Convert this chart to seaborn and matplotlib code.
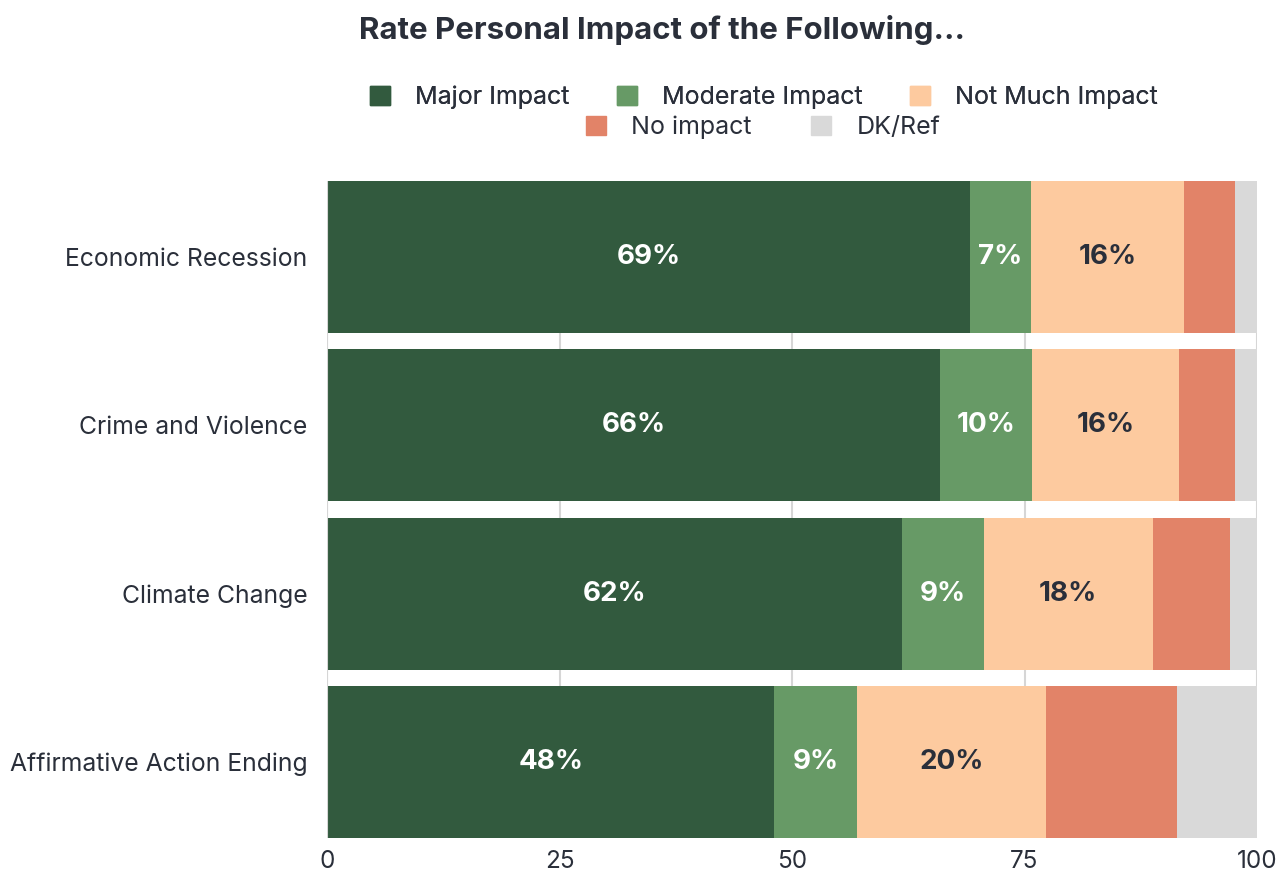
import matplotlib.pyplot as plt
import matplotlib.patches as mpatches
import seaborn as sns
import numpy as np

# survey data (percent)
issues = ["Economic Recession", "Crime and Violence", "Climate Change", "Affirmative Action Ending"]
major = [69.1, 65.9, 61.8, 48.1]
moderate = [6.6, 9.9, 8.8, 8.9]
not_much = [16.4, 15.8, 18.2, 20.3]
no_impact = [5.5, 6.0, 8.3, 14.1]
dk_ref = [2.4, 2.4, 2.9, 8.6]

series = ["Major Impact", "Moderate Impact", "Not Much Impact", "No impact", "DK/Ref"]
colors = ["#325a3e", "#679a66", "#fdca9f", "#e28368", "#d9d9d9"]
label_colors = ["white", "white", "#2a2f3a", None, None]

text_color = "#2a2f3a"

sns.set_theme(style="white")
plt.rcParams["font.family"] = ["Inter", "DejaVu Sans"]

fig = plt.figure(figsize=(12.81, 8.73), dpi=100)
ax = fig.add_axes([327 / 1281, 1 - 838 / 873, 930 / 1281, 657 / 873])

values = np.array([major, moderate, not_much, no_impact, dk_ref])
cum = values.cumsum(axis=0)

# draw cumulative bars from the back so they stack
for i in range(len(series) - 1, -1, -1):
    sns.barplot(x=cum[i], y=issues, color=colors[i], orient="h", width=0.9,
                saturation=1, linewidth=0, ax=ax, zorder=2)

# segment labels on the first three segments
for i in range(3):
    for j, issue in enumerate(issues):
        start = cum[i][j] - values[i][j]
        ax.text(start + values[i][j] / 2, j, f"{round(values[i][j])}%",
                ha="center", va="center", fontsize=20, fontweight="bold",
                color=label_colors[i], zorder=3)

ax.set_xlim(0, 100)
ax.set_ylim(3.45, -0.45)
ax.set_xticks([0, 25, 50, 75, 100])
ax.xaxis.grid(True, color="#d6d6d6", linewidth=1.5, zorder=0)
ax.set_axisbelow(True)
for s in ax.spines.values():
    s.set_visible(False)
ax.axvline(0, color="#d6d6d6", linewidth=1.5, zorder=4)
ax.set_xlabel("")
ax.set_ylabel("")
ax.tick_params(axis="y", length=0, pad=14, labelsize=17.8, labelcolor=text_color)
ax.tick_params(axis="x", length=0, pad=9, labelsize=17.5, labelcolor=text_color)

fig.text(662 / 1281, 1 - 30 / 873, "Rate Personal Impact of the Following...",
         ha="center", va="center", fontsize=22.5, fontweight="bold", color=text_color)

handles = [mpatches.Patch(color=c) for c in colors]
leg1 = fig.legend(handles[:3], series[:3], loc="center", ncol=3,
                  bbox_to_anchor=(764 / 1281, 1 - 97 / 873), frameon=False,
                  fontsize=18, handlelength=0.8, handleheight=0.8,
                  handletextpad=1.0, columnspacing=1.9, labelcolor=text_color)
leg2 = fig.legend(handles[3:], series[3:], loc="center", ncol=2,
                  bbox_to_anchor=(763 / 1281, 1 - 127 / 873), frameon=False,
                  fontsize=18, handlelength=0.8, handleheight=0.8,
                  handletextpad=1.0, columnspacing=2.4, labelcolor=text_color)
fig.add_artist(leg1)

fig.savefig("out.png", dpi=100)
